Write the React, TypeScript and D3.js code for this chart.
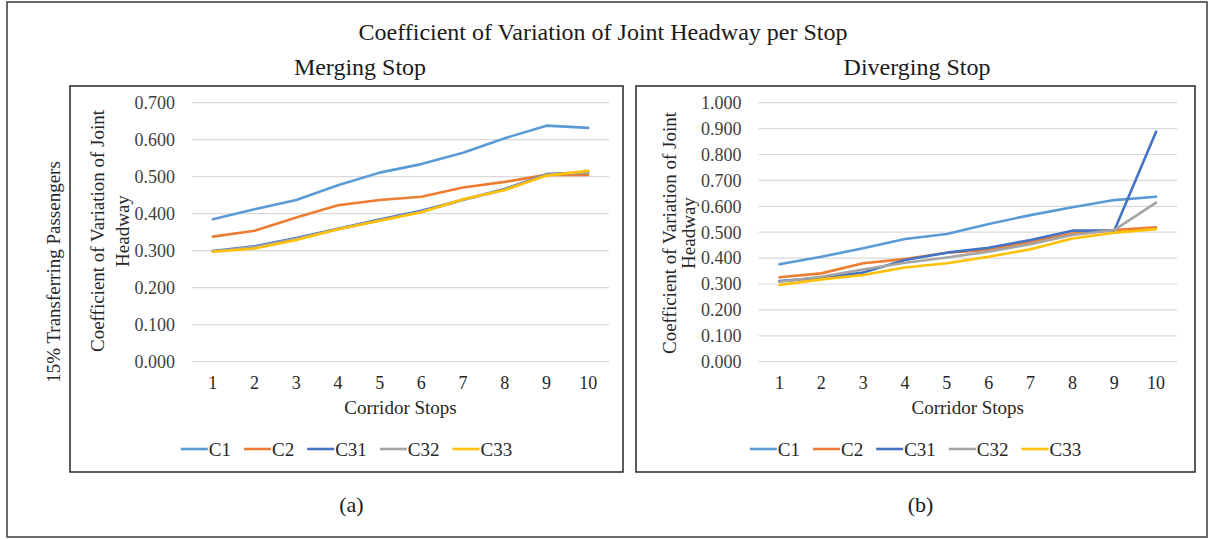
import * as d3 from "d3";
import { useEffect, useRef } from "react";

const STOPS = ["1", "2", "3", "4", "5", "6", "7", "8", "9", "10"];
const SERIES = ["C1", "C2", "C31", "C32", "C33"];

// Merging stop
const MERGE_C1 = [0.385, 0.412, 0.437, 0.477, 0.511, 0.534, 0.565, 0.604, 0.638, 0.632];
const MERGE_C2 = [0.338, 0.354, 0.39, 0.423, 0.437, 0.446, 0.471, 0.486, 0.505, 0.505];
const MERGE_C31 = [0.299, 0.312, 0.334, 0.359, 0.384, 0.408, 0.438, 0.467, 0.507, 0.512];
const MERGE_C32 = [0.298, 0.31, 0.332, 0.358, 0.382, 0.405, 0.437, 0.465, 0.505, 0.512];
const MERGE_C33 = [0.297, 0.306, 0.329, 0.358, 0.381, 0.404, 0.439, 0.464, 0.503, 0.516];

// Diverging stop
const DIV_C1 = [0.376, 0.405, 0.438, 0.474, 0.493, 0.532, 0.566, 0.596, 0.624, 0.637];
const DIV_C2 = [0.326, 0.341, 0.38, 0.396, 0.421, 0.431, 0.463, 0.495, 0.508, 0.519];
const DIV_C31 = [0.311, 0.324, 0.344, 0.393, 0.421, 0.44, 0.47, 0.506, 0.506, 0.888];
const DIV_C32 = [0.309, 0.328, 0.356, 0.382, 0.402, 0.425, 0.454, 0.489, 0.508, 0.614];
const DIV_C33 = [0.296, 0.318, 0.335, 0.364, 0.38, 0.405, 0.434, 0.476, 0.498, 0.512];

const MERGE_TICKS = [0, 0.1, 0.2, 0.3, 0.4, 0.5, 0.6, 0.7];
const DIV_TICKS = [0, 0.1, 0.2, 0.3, 0.4, 0.5, 0.6, 0.7, 0.8, 0.9, 1.0];

const COLORS = ["#5B9BD5", "#ED7D31", "#4472C4", "#A5A5A5", "#FFC000"];
const FONT = "'Times New Roman', Tinos, 'Liberation Serif', 'DejaVu Serif', serif";
const W = 1215;
const H = 540;

const measureCtx = document.createElement("canvas").getContext("2d");
function textWidth(s: string, size: number) {
  if (!measureCtx) return s.length * size * 0.5;
  measureCtx.font = `${size}px ${FONT}`;
  return measureCtx.measureText(s).width;
}

type Panel = {
  frame: [number, number, number, number];
  plot: [number, number, number, number];
  yMax: number;
  ticks: number[];
  data: number[][];
  subtitle: string;
  subtitleX: number;
  titleX: [number, number];
  titleY: number;
  caption: string;
};

function drawPanel(svg: d3.Selection<SVGSVGElement, unknown, null, undefined>, p: Panel) {
  const [fx0, fy0, fx1, fy1] = p.frame;
  const [px0, py0, px1, py1] = p.plot;
  const x = d3.scalePoint<string>().domain(STOPS).range([px0, px1]).padding(0.5);
  const y = d3.scaleLinear().domain([0, p.yMax]).range([py1, py0]);

  svg
    .append("rect")
    .attr("x", fx0)
    .attr("y", fy0)
    .attr("width", fx1 - fx0)
    .attr("height", fy1 - fy0)
    .attr("fill", "#fff")
    .attr("stroke", "#262626")
    .attr("stroke-width", 1.5);

  svg
    .append("text")
    .attr("x", p.subtitleX)
    .attr("y", 75)
    .attr("text-anchor", "middle")
    .attr("font-size", 24)
    .attr("fill", "#1a1a1a")
    .text(p.subtitle);

  const g = svg.append("g");
  g.selectAll("line.grid")
    .data(p.ticks)
    .enter()
    .append("line")
    .attr("x1", px0)
    .attr("x2", px1)
    .attr("y1", (d) => y(d))
    .attr("y2", (d) => y(d))
    .attr("stroke", "#d9d9d9")
    .attr("stroke-width", 1.2);

  g.selectAll("text.ytick")
    .data(p.ticks)
    .enter()
    .append("text")
    .attr("x", px0 - 17)
    .attr("y", (d) => y(d))
    .attr("dy", "0.35em")
    .attr("text-anchor", "end")
    .attr("font-size", 18)
    .attr("fill", "#404040")
    .text((d) => d3.format(".3f")(d));

  g.selectAll("text.xtick")
    .data(STOPS)
    .enter()
    .append("text")
    .attr("x", (d) => x(d) as number)
    .attr("y", py1 + 21)
    .attr("dy", "0.35em")
    .attr("text-anchor", "middle")
    .attr("font-size", 18)
    .attr("fill", "#262626")
    .text((d) => d);

  g.append("text")
    .attr("x", (px0 + px1) / 2)
    .attr("y", py1 + 46)
    .attr("dy", "0.35em")
    .attr("text-anchor", "middle")
    .attr("font-size", 19)
    .attr("fill", "#262626")
    .text("Corridor Stops");

  const yTitle = ["Coefficient of Variation of Joint", "Headway"];
  yTitle.forEach((t, i) => {
    g.append("text")
      .attr("transform", `translate(${p.titleX[i]},${p.titleY}) rotate(-90)`)
      .attr("dy", "0.35em")
      .attr("text-anchor", "middle")
      .attr("font-size", 19)
      .attr("fill", "#262626")
      .text(t);
  });

  const line = d3
    .line<number>()
    .x((_, i) => x(STOPS[i]) as number)
    .y((d) => y(d));

  p.data.forEach((vals, si) => {
    g.append("path")
      .attr("d", line(vals))
      .attr("fill", "none")
      .attr("stroke", COLORS[si])
      .attr("stroke-width", 2.6)
      .attr("stroke-linejoin", "round")
      .attr("stroke-linecap", "round");
  });

  // legend
  const lineLen = 27;
  const gap = 13;
  const fs = 19;
  const widths = SERIES.map((s) => lineLen + 1 + textWidth(s, fs));
  const total = d3.sum(widths) + gap * (SERIES.length - 1);
  let lx = (fx0 + fx1) / 2 - total / 2;
  const ly = 449;
  SERIES.forEach((s, i) => {
    g.append("line")
      .attr("x1", lx)
      .attr("x2", lx + lineLen)
      .attr("y1", ly)
      .attr("y2", ly)
      .attr("stroke", COLORS[i])
      .attr("stroke-width", 2.6);
    g.append("text")
      .attr("x", lx + lineLen + 1)
      .attr("y", ly)
      .attr("dy", "0.35em")
      .attr("font-size", fs)
      .attr("fill", "#262626")
      .text(s);
    lx += widths[i] + gap;
  });

  svg
    .append("text")
    .attr("x", (fx0 + fx1) / 2 + 5)
    .attr("y", 504)
    .attr("dy", "0.35em")
    .attr("text-anchor", "middle")
    .attr("font-size", 22)
    .attr("fill", "#1a1a1a")
    .text(p.caption);
}

export default function App() {
  const ref = useRef<SVGSVGElement | null>(null);

  useEffect(() => {
    const host = ref.current;
    if (!host) return;
    const svg = d3.select(host);
    svg.selectAll("*").remove();

    svg.append("rect").attr("width", W).attr("height", H).attr("fill", "#fff");
    svg
      .append("rect")
      .attr("x", 7)
      .attr("y", 2)
      .attr("width", 1200)
      .attr("height", 535)
      .attr("fill", "#fff")
      .attr("stroke", "#3a3a3a")
      .attr("stroke-width", 1.5);

    svg
      .append("text")
      .attr("x", 603)
      .attr("y", 40)
      .attr("text-anchor", "middle")
      .attr("font-size", 24)
      .attr("fill", "#1a1a1a")
      .text("Coefficient of Variation of Joint Headway per Stop");

    svg
      .append("text")
      .attr("transform", "translate(53,272) rotate(-90)")
      .attr("dy", "0.35em")
      .attr("text-anchor", "middle")
      .attr("font-size", 19)
      .attr("fill", "#262626")
      .text("15% Transferring Passengers");

    drawPanel(svg, {
      frame: [70, 86, 623, 472],
      plot: [192, 102.7, 609, 361.7],
      yMax: 0.7,
      ticks: MERGE_TICKS,
      data: [MERGE_C1, MERGE_C2, MERGE_C31, MERGE_C32, MERGE_C33],
      subtitle: "Merging Stop",
      subtitleX: 360,
      titleX: [97, 122],
      titleY: 231,
      caption: "(a)",
    });

    drawPanel(svg, {
      frame: [636, 86, 1195, 472],
      plot: [758.5, 102.7, 1177, 361.7],
      yMax: 1.0,
      ticks: DIV_TICKS,
      data: [DIV_C1, DIV_C2, DIV_C31, DIV_C32, DIV_C33],
      subtitle: "Diverging Stop",
      subtitleX: 917,
      titleX: [669, 688],
      titleY: 233,
      caption: "(b)",
    });
  }, []);

  return (
    <svg
      ref={ref}
      width={W}
      height={H}
      style={{ position: "absolute", left: 0, top: 0, fontFamily: FONT }}
    />
  );
}
